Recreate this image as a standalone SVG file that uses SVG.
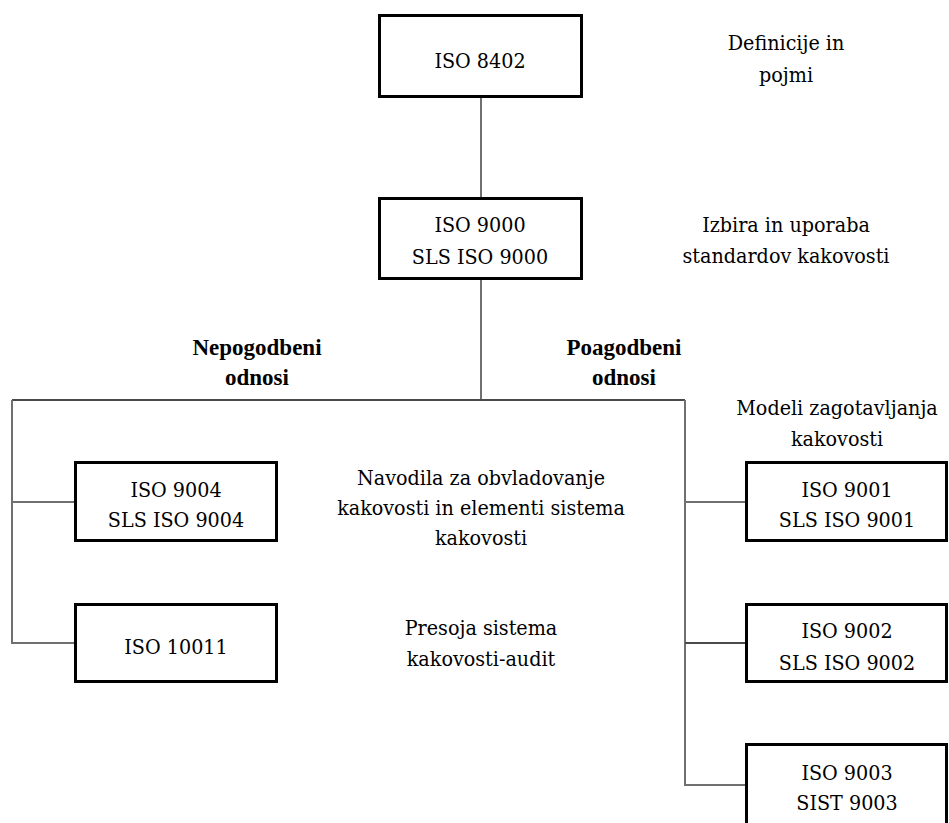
<svg xmlns="http://www.w3.org/2000/svg" width="949" height="823" viewBox="0 0 949 823">
<style>
  .box { fill: #fff; stroke: #000; stroke-width: 3; }
  .t { font-family: "DejaVu Serif", serif; font-stretch: condensed; font-size: 21.3px; fill: #000; text-anchor: middle; }
  .b { font-family: "Liberation Serif", serif; font-stretch: normal; font-size: 23px; font-weight: bold; }
  .conn { fill: none; stroke: #707070; stroke-width: 2; }
  .connh { fill: none; stroke: #4a4a4a; stroke-width: 2; }
</style>
<rect width="949" height="823" fill="#fff"/>
<g id="connectors">
  <line class="conn" x1="481" y1="98" x2="481" y2="197"/>
  <line class="conn" x1="481" y1="280" x2="481" y2="400"/>
  <line class="connh" x1="12" y1="400" x2="685" y2="400"/>
  <polyline class="conn" points="12,400 12,643 74,643"/>
  <line class="conn" x1="12" y1="502" x2="74" y2="502"/>
  <polyline class="conn" points="685,400 685,785 745,785"/>
  <line class="conn" x1="685" y1="502" x2="745" y2="502"/>
  <line class="connh" x1="685" y1="643" x2="745" y2="643"/>
</g>
<g id="iso8402">
  <rect class="box" x="379.5" y="15.5" width="202" height="81"/>
  <text class="t" x="480" y="68">ISO 8402</text>
</g>
<g id="iso9000">
  <rect class="box" x="379.5" y="198.5" width="202" height="80"/>
  <text class="t" x="480" y="232">ISO 9000</text>
  <text class="t" x="480" y="264">SLS ISO 9000</text>
</g>
<g id="iso9004">
  <rect class="box" x="75.5" y="462.5" width="201" height="78"/>
  <text class="t" x="176" y="497">ISO 9004</text>
  <text class="t" x="176" y="527">SLS ISO 9004</text>
</g>
<g id="iso10011">
  <rect class="box" x="75.5" y="604.5" width="201" height="77"/>
  <text class="t" x="176" y="654">ISO 10011</text>
</g>
<g id="iso9001">
  <rect class="box" x="746.5" y="462.5" width="200" height="78"/>
  <text class="t" x="847" y="497">ISO 9001</text>
  <text class="t" x="847" y="527">SLS ISO 9001</text>
</g>
<g id="iso9002">
  <rect class="box" x="746.5" y="604.5" width="200" height="77"/>
  <text class="t" x="847" y="638">ISO 9002</text>
  <text class="t" x="847" y="670">SLS ISO 9002</text>
</g>
<g id="iso9003">
  <rect class="box" x="746.5" y="744.5" width="200" height="90"/>
  <text class="t" x="847" y="780">ISO 9003</text>
  <text class="t" x="847" y="810">SIST 9003</text>
</g>
<g id="labels">
  <text class="t" x="786" y="50">Definicije in</text>
  <text class="t" x="786" y="82">pojmi</text>
  <text class="t" x="786" y="232">Izbira in uporaba</text>
  <text class="t" x="786" y="263">standardov kakovosti</text>
  <text class="t b" x="257" y="355">Nepogodbeni</text>
  <text class="t b" x="257" y="385">odnosi</text>
  <text class="t b" x="624" y="355">Poagodbeni</text>
  <text class="t b" x="624" y="385">odnosi</text>
  <text class="t" x="837" y="415">Modeli zagotavljanja</text>
  <text class="t" x="837" y="446">kakovosti</text>
  <text class="t" x="481" y="485">Navodila za obvladovanje</text>
  <text class="t" x="481" y="515">kakovosti in elementi sistema</text>
  <text class="t" x="481" y="545">kakovosti</text>
  <text class="t" x="481" y="635">Presoja sistema</text>
  <text class="t" x="481" y="666">kakovosti-audit</text>
</g>
</svg>
